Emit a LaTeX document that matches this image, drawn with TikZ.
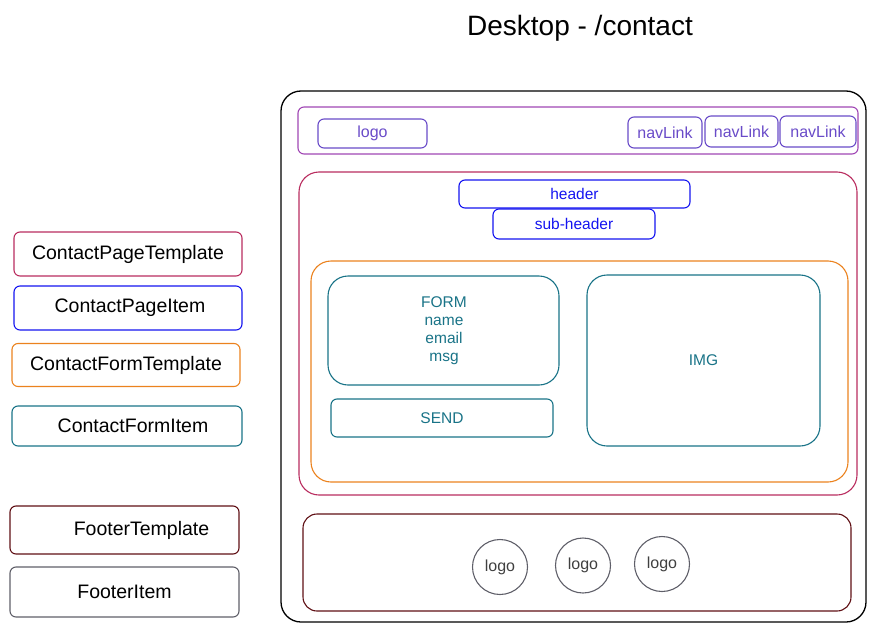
\documentclass[tikz,border=0pt]{standalone}
\usepackage{fontspec}
\setmainfont{Liberation Sans}
\usetikzlibrary{calc}

\definecolor{navbar}{RGB}{160,70,180}
\definecolor{navitem}{RGB}{105,75,200}
\definecolor{pagetpl}{RGB}{185,45,95}
\definecolor{pageitem}{RGB}{20,20,240}
\definecolor{formtpl}{RGB}{235,130,30}
\definecolor{formitem}{RGB}{25,115,135}
\definecolor{footertpl}{RGB}{95,15,20}
\definecolor{footeritem}{RGB}{95,95,105}

\begin{document}
\begin{tikzpicture}[x=1pt, y=-1pt,
    box/.style={draw, rounded corners=6pt, line width=1.1pt, inner sep=0pt},
    bigbox/.style={draw, rounded corners=20pt, line width=1.1pt, inner sep=0pt},
    legend/.style={box, font=\fontsize{19.5}{22}\selectfont, text=black},
    small/.style={font=\fontsize{16}{18}\selectfont},
    logoc/.style={draw=footeritem, circle, line width=1.1pt, minimum size=55pt, inner sep=0pt, font=\fontsize{16}{18}\selectfont, text=black!75}]
    \useasboundingbox (0,0) rectangle (880,634);

    \node[font=\fontsize{28}{32}\selectfont] (title) at (580,28) {Desktop - /contact};

    % legend
    \node[legend, draw=pagetpl, minimum width=228pt, minimum height=44pt] (lpt) at (128,254) {ContactPageTemplate};
    \node[legend, draw=pageitem, minimum width=228pt, minimum height=44pt] (lpi) at (128,308) {\hspace*{4pt}ContactPageItem};
    \node[legend, draw=formtpl, minimum width=228pt, minimum height=43pt] (lft) at (126,365) {ContactFormTemplate};
    \node[legend, draw=formitem, minimum width=230pt, minimum height=40pt] (lfi) at (127,426) {\hspace*{12pt}ContactFormItem};
    \node[legend, draw=footertpl, minimum width=229pt, minimum height=48pt] (lot) at (124.5,530) {\hspace*{34pt}FooterTemplate};
    \node[legend, draw=footeritem, minimum width=229pt, minimum height=50pt] (loi) at (124.5,592) {FooterItem};

    % page frame
    \node[bigbox, draw=black, line width=1.3pt, minimum width=585pt, minimum height=531pt] (frame) at (573.5,356.5) {};

    % nav
    \node[box, draw=navbar, minimum width=560pt, minimum height=47pt] (nav) at (578,130.5) {};
    \node[box, draw=navitem, text=navitem, small, minimum width=109pt, minimum height=29pt] (logo) at (372.5,133.5) {logo};
    \node[box, draw=navitem, text=navitem, small, minimum width=74pt, minimum height=31pt] (nav1) at (665,132.5) {navLink};
    \node[box, draw=navitem, text=navitem, small, minimum width=73pt, minimum height=31pt] (nav2) at (741.5,131.5) {navLink};
    \node[box, draw=navitem, text=navitem, small, minimum width=76pt, minimum height=31pt] (nav3) at (818,131.5) {navLink};

    % contact page
    \node[bigbox, draw=pagetpl, minimum width=558pt, minimum height=323pt] (page) at (578,333.5) {};
    \node[box, draw=pageitem, text=pageitem, font=\fontsize{15.5}{18}\selectfont, minimum width=231pt, minimum height=28pt] (header) at (574.5,194) {header};
    \node[box, draw=pageitem, text=pageitem, font=\fontsize{15.5}{18}\selectfont, minimum width=162pt, minimum height=30pt] (subheader) at (574,224) {sub-header};

    % contact form
    \node[bigbox, draw=formtpl, minimum width=537pt, minimum height=221pt] (form) at (579.5,371.5) {};
    \node[bigbox, draw=formitem, minimum width=231pt, minimum height=109pt] (fields) at (443.5,330.5) {};
    \node[text=formitem, align=center, font=\fontsize{15.5}{18}\selectfont] (fieldtext) at (444,331) {FORM\\name\\email\\msg};
    \node[box, draw=formitem, text=formitem, font=\fontsize{15.5}{18}\selectfont, minimum width=222pt, minimum height=38pt] (send) at (442,418) {SEND};
    \node[bigbox, draw=formitem, text=formitem, font=\fontsize{15.5}{18}\selectfont, minimum width=233pt, minimum height=171pt] (img) at (703.5,360.5) {IMG};

    % footer
    \node[bigbox, rounded corners=14pt, draw=footertpl, minimum width=548pt, minimum height=97pt] (footer) at (577,562.5) {};
    \node[logoc] (flogo1) at (500,567) {logo};
    \node[logoc] (flogo2) at (583,565.5) {logo};
    \node[logoc] (flogo3) at (662,564) {logo};
\end{tikzpicture}
\end{document}
